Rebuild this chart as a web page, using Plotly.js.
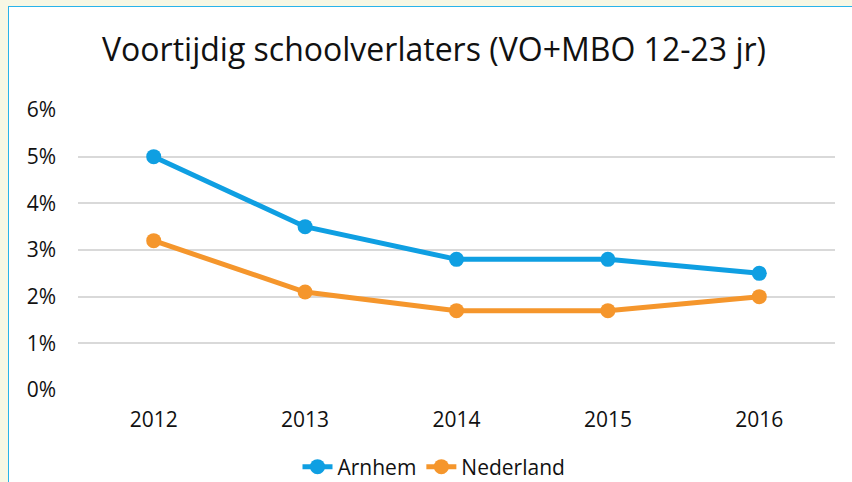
<!DOCTYPE html>
<html>
<head>
<meta charset="utf-8">
<script src="https://cdn.plot.ly/plotly-3.0.1.min.js"></script>
<style>
  html, body { margin: 0; padding: 0; overflow: hidden; background: #f7f7e4; width: 852px; height: 482px; }
  #box { position: absolute; left: 8px; top: 6px; width: 850px; height: 480px;
         background: #ffffff; border-left: 1px solid #29b3ea; border-top: 1px solid #29b3ea; }
  #chart { width: 850px; height: 480px; }
</style>
</head>
<body>
<div id="box"><div id="chart"></div></div>
<script>
const years = ['2012', '2013', '2014', '2015', '2016'];
const arnhem = [0.050, 0.035, 0.028, 0.028, 0.025];
const nederland = [0.032, 0.021, 0.017, 0.017, 0.020];
const yTicks = [0, 0.01, 0.02, 0.03, 0.04, 0.05, 0.06];
const yTickText = ['0%', '1%', '2%', '3%', '4%', '5%', '6%'];

const FONT = 'Open Sans, Noto Sans, sans-serif';
const blue = '#0f9fe2';
const orange = '#f5962c';

const traces = [
  { x: years, y: arnhem, name: 'Arnhem', type: 'scatter', mode: 'lines+markers',
    line: { color: blue, width: 5 }, marker: { color: blue, size: 15 } },
  { x: years, y: nederland, name: 'Nederland', type: 'scatter', mode: 'lines+markers',
    line: { color: orange, width: 5 }, marker: { color: orange, size: 15 } }
];

const layout = {
  width: 850, height: 480,
  paper_bgcolor: '#ffffff', plot_bgcolor: '#ffffff',
  margin: { l: 69, r: 24, t: 103, b: 97 },
  font: { family: FONT, color: '#111111', size: 21 },
  title: { text: 'Voortijdig schoolverlaters (VO+MBO 12-23 jr)', font: { family: FONT, size: 32, color: '#111111' },
           xref: 'container', x: 0.5, xanchor: 'center', yref: 'container', y: 1 - 43/480, yanchor: 'middle' },
  xaxis: { type: 'category', range: [-0.5, 4.5], showgrid: false, zeroline: false, showline: false,
           ticks: '', ticklabelstandoff: 15, tickfont: { size: 21 } },
  yaxis: { range: [0, 0.06], tickvals: yTicks, ticktext: yTickText, showgrid: true, gridcolor: '#d9d9d9', gridwidth: 2,
           zeroline: false, showline: false, ticks: '', ticklabelstandoff: 21, tickfont: { size: 21 } },
  showlegend: true,
  legend: { orientation: 'h', xref: 'container', x: 0.5, xanchor: 'center', yref: 'container', y: 1 - 460/480, yanchor: 'middle',
            font: { size: 21 }, itemwidth: 30, tracegroupgap: 0 },
  hovermode: false
};

Plotly.newPlot('chart', traces, layout, { displayModeBar: false, staticPlot: true });
</script>
</body>
</html>
